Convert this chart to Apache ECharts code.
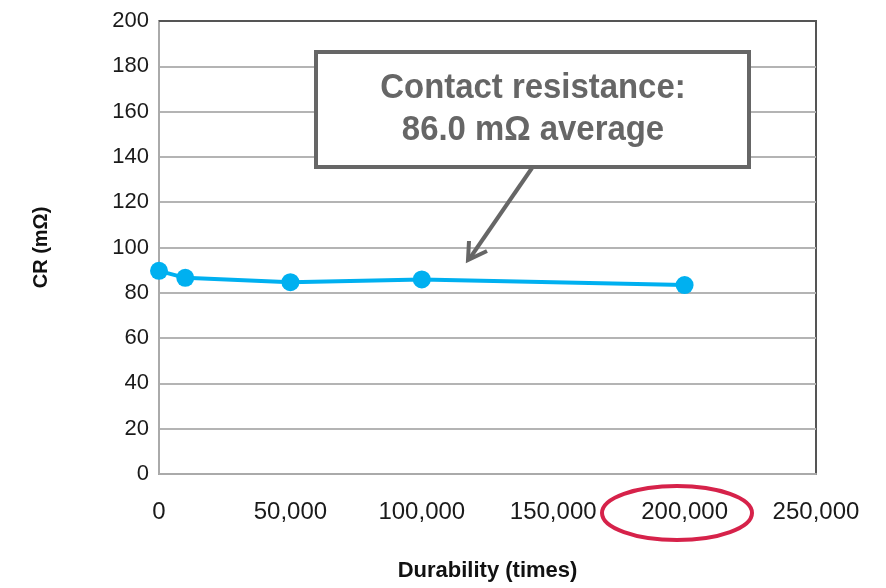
<!DOCTYPE html>
<html>
<head>
<meta charset="utf-8">
<script src="https://cdn.jsdelivr.net/npm/echarts@6/dist/echarts.min.js"></script>
<style>
  html, body { margin: 0; padding: 0; background: #fff; }
  #chart { width: 886px; height: 588px; }
</style>
</head>
<body>
<div id="chart"></div>
<script>
// 耐久次数（横轴）
const durability = [0, 10000, 50000, 100000, 200000];
// 接触电阻 CR (mΩ)
const crValues = [89.7, 86.6, 84.7, 85.9, 83.4];
// 坐标轴刻度
const yTicks = [0, 20, 40, 60, 80, 100, 120, 140, 160, 180, 200];
const xTicks = [0, 50000, 100000, 150000, 200000, 250000];

const labelFont = 'Liberation Sans, Arial, sans-serif';

const chart = echarts.init(document.getElementById('chart'));

const option = {
  backgroundColor: '#fff',
  animation: false,
  grid: {
    left: 159, right: 70, top: 21, bottom: 114,
    show: true,
    borderColor: '#555',
    borderWidth: 2
  },
  xAxis: {
    type: 'value',
    min: xTicks[0],
    max: xTicks[xTicks.length - 1],
    interval: 50000,
    name: 'Durability (times)',
    nameLocation: 'middle',
    nameGap: 86,
    nameTextStyle: { fontFamily: labelFont, fontWeight: 'bold', fontSize: 22, color: '#111' },
    axisLine: { show: true, lineStyle: { color: '#aaa', width: 2 } },
    axisTick: { show: false },
    splitLine: { show: false },
    axisLabel: {
      margin: 26,
      fontFamily: labelFont,
      fontSize: 24,
      color: '#1a1a1a',
      formatter: v => v.toLocaleString('en-US')
    }
  },
  yAxis: {
    type: 'value',
    min: yTicks[0],
    max: yTicks[yTicks.length - 1],
    interval: 20,
    name: 'CR (mΩ)',
    nameLocation: 'middle',
    nameGap: 108,
    nameRotate: 90,
    nameTextStyle: { fontFamily: labelFont, fontWeight: 'bold', fontSize: 20, color: '#111' },
    axisLine: { show: true, lineStyle: { color: '#aaa', width: 2 } },
    axisTick: { show: false },
    splitLine: { show: true, lineStyle: { color: '#b4b4b4', width: 2 } },
    axisLabel: { margin: 10, fontFamily: labelFont, fontSize: 22, color: '#1a1a1a' }
  },
  series: [{
    type: 'line',
    data: durability.map((d, i) => [d, crValues[i]]),
    symbol: 'circle',
    symbolSize: 18,
    lineStyle: { color: '#00b0f0', width: 4 },
    itemStyle: { color: '#00b0f0' },
    z: 5
  }],
  // 注释框、箭头和红色圆圈
  graphic: [
    {
      type: 'line',
      shape: { x1: 159, y1: 21, x2: 816, y2: 21 },
      style: { stroke: '#555', lineWidth: 2 },
      z: 9
    },
    {
      type: 'rect',
      shape: { x: 316, y: 52, width: 433, height: 115 },
      style: { fill: '#fff', stroke: '#666', lineWidth: 4 },
      z: 10
    },
    {
      type: 'text',
      x: 533, y: 109,
      scaleX: 0.94,
      style: {
        text: 'Contact resistance:\n86.0 mΩ average',
        fill: '#666',
        font: 'bold 35px "Liberation Sans", Arial, sans-serif',
        align: 'center',
        verticalAlign: 'middle',
        lineHeight: 42
      },
      z: 11
    },
    {
      type: 'line',
      shape: { x1: 532, y1: 168, x2: 470, y2: 258 },
      style: { stroke: '#666', lineWidth: 4 },
      z: 10
    },
    {
      type: 'polyline',
      shape: { points: [[469, 241], [468, 260], [487, 251]] },
      style: { stroke: '#666', lineWidth: 4, fill: null },
      z: 10
    },
    {
      type: 'ellipse',
      shape: { cx: 677, cy: 513, rx: 75, ry: 27 },
      style: { fill: null, stroke: '#d6224a', lineWidth: 4 },
      z: 12
    }
  ]
};

chart.setOption(option);
</script>
</body>
</html>
